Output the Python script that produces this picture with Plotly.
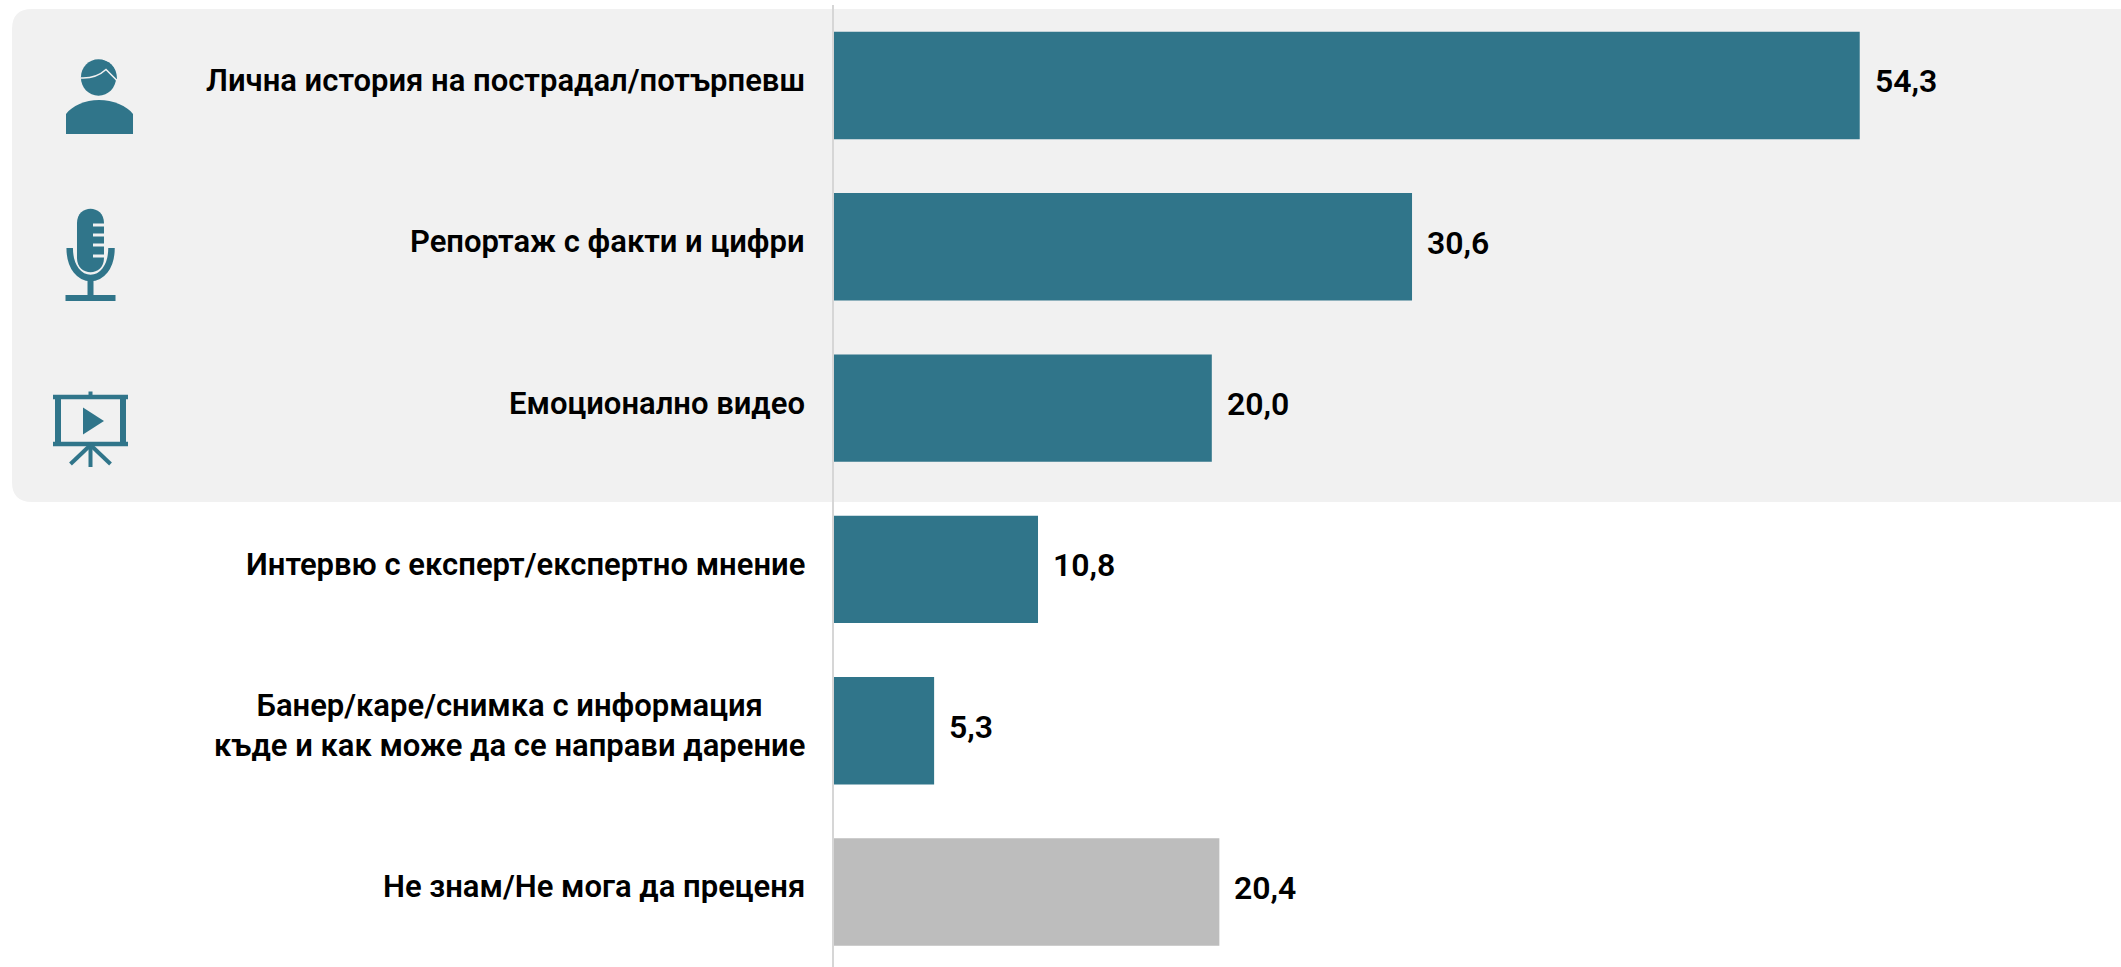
import plotly.graph_objects as go

categories = [
    "Лична история на пострадал/потърпевш",
    "Репортаж с факти и цифри",
    "Емоционално видео",
    "Интервю с експерт/експертно мнение",
    "Банер/каре/снимка с информация<br>къде и как може да се направи дарение",
    "Не знам/Не мога да преценя",
]
values = [54.3, 30.6, 20.0, 10.8, 5.3, 20.4]
bar_colors = ["#30758a"] * 5 + ["#bdbdbd"]

W, H = 2121, 967
TEAL = "#30758a"
PANEL = "#f1f1f1"
FONT = "Roboto"


def path(*cmds):
    """Build an SVG path in paper coordinates from pixel coordinates."""
    out = []
    for c in cmds:
        if isinstance(c, str):
            out.append(c)
        else:
            out.append(f"{c[0] / W:.5f},{1 - c[1] / H:.5f}")
    return " ".join(out)


def fill(*cmds, color=TEAL, layer="above"):
    return dict(type="path", xref="paper", yref="paper", layer=layer,
                path=path(*cmds), fillcolor=color, line=dict(width=0))


def stroke(*cmds, width=4, color=TEAL):
    return dict(type="path", xref="paper", yref="paper", layer="above",
                path=path(*cmds), fillcolor="rgba(0,0,0,0)",
                line=dict(width=width, color=color))


def circle_cmds(cx, cy, rx, ry):
    k = 0.5523
    return ["M", (cx - rx, cy),
            "C", (cx - rx, cy - k * ry), (cx - k * rx, cy - ry), (cx, cy - ry),
            "C", (cx + k * rx, cy - ry), (cx + rx, cy - k * ry), (cx + rx, cy),
            "C", (cx + rx, cy + k * ry), (cx + k * rx, cy + ry), (cx, cy + ry),
            "C", (cx - k * rx, cy + ry), (cx - rx, cy + k * ry), (cx - rx, cy), "Z"]


shapes = [
    # rounded panel behind the three top rows
    fill("M", (32, 9), "L", (2150, 9), "L", (2150, 502), "L", (32, 502),
         "Q", (12, 502), (12, 482), "L", (12, 29), "Q", (12, 9), (32, 9), "Z",
         color=PANEL, layer="below"),
    # person
    fill(*circle_cmds(98.5, 77.5, 17.6, 18.2)),
    fill("M", (100, 60), "C", (108, 60), (117, 66), (117, 79), "L", (112, 79), "L", (100, 66), "Z"),
    stroke("M", (81, 78), "C", (92, 78.5), (100, 75), (106, 69.5), "L", (116.5, 80),
           width=1.6, color=PANEL),
    fill("M", (66, 134), "L", (66, 114), "C", (72, 106), (85, 100), (99, 100),
         "C", (113, 100), (127, 106), (133, 114), "L", (133, 134), "Z"),
    # microphone
    fill("M", (77, 223), "C", (77, 204), (104, 204), (104, 223), "L", (104, 258),
         "C", (104, 277), (77, 277), (77, 258), "Z"),
    stroke("M", (93, 225), "L", (105, 225), width=3, color=PANEL),
    stroke("M", (93, 235), "L", (105, 235), width=3, color=PANEL),
    stroke("M", (93, 245), "L", (105, 245), width=3, color=PANEL),
    stroke("M", (93, 256), "L", (105, 256), width=3, color=PANEL),
    stroke("M", (69.7, 248), "C", (69.7, 288), (111.5, 288), (111.5, 248), width=6.5),
    stroke("M", (90.5, 279), "L", (90.5, 297), width=6),
    fill("M", (65.5, 295), "L", (115.5, 295), "L", (115.5, 301), "L", (65.5, 301), "Z"),
    # presentation board
    stroke("M", (90.5, 391.5), "L", (90.5, 396), width=4),
    stroke("M", (53, 397), "L", (128, 397), width=4.5),
    stroke("M", (58, 397), "L", (58, 444), width=6),
    stroke("M", (123, 397), "L", (123, 444), width=6),
    stroke("M", (53, 444), "L", (128, 444), width=4.5),
    fill("M", (83, 407.5), "L", (104, 421), "L", (83, 434.5), "Z"),
    stroke("M", (90.5, 445), "L", (90.5, 467), width=4),
    stroke("M", (90.5, 445), "L", (70.5, 464), width=4),
    stroke("M", (90.5, 445), "L", (110.5, 464), width=4),
]

fig = go.Figure(go.Bar(
    x=values,
    y=categories,
    orientation="h",
    width=0.666,
    marker=dict(color=bar_colors, line=dict(width=0)),
    hoverinfo="skip",
))

annotations = []
for cat, val in zip(categories, values):
    annotations.append(dict(
        x=val, y=cat, xref="x", yref="y", xanchor="left", yanchor="middle",
        xshift=13, yshift=4, showarrow=False,
        text=f"{val:.1f}".replace(".", ","),
        font=dict(family=FONT, size=32, color="#000000", weight=600),
    ))
    annotations.append(dict(
        x=0, y=cat, xref="x", yref="y", xanchor="right", yanchor="middle",
        xshift=-27, yshift=5, showarrow=False, align="center",
        text=cat,
        font=dict(family=FONT, size=31, color="#000000", weight=600),
    ))

fig.update_layout(
    width=W,
    height=H,
    margin=dict(l=0, r=0, t=0, b=0, pad=0),
    paper_bgcolor="#ffffff",
    plot_bgcolor="rgba(0,0,0,0)",
    showlegend=False,
    shapes=shapes,
    annotations=annotations,
    xaxis=dict(domain=[834 / W, 1], range=[0, (W - 834) / 18.89], visible=False),
    yaxis=dict(domain=[0, 1 - 5 / H], range=[5.465, -0.499], type="category",
               categoryorder="array", categoryarray=categories,
               showticklabels=False, ticks="", showgrid=False, zeroline=False,
               showline=True, linecolor="#d6d6d6", linewidth=2),
)
fig.update_xaxes(anchor="y")

fig.write_html("out.html", config={"displayModeBar": False},
               post_script="document.body.style.margin='0';document.body.style.background='#fff';")
